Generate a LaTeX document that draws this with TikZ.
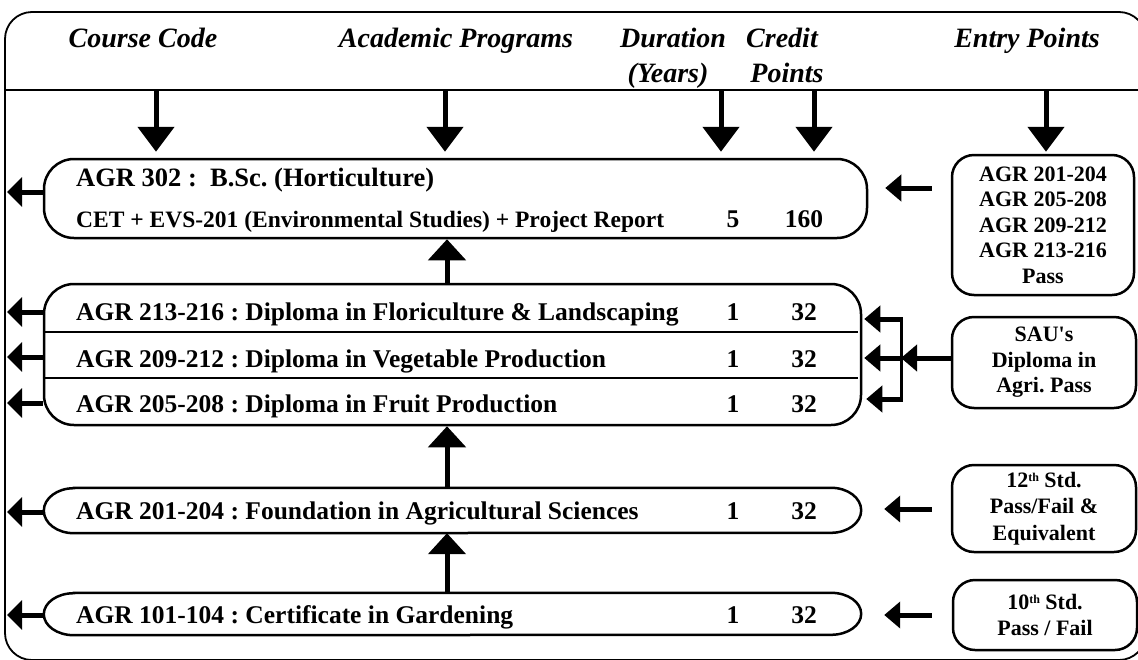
\documentclass[tikz,border=0pt]{standalone}
\usepackage{fontspec}
\setmainfont{Liberation Serif}
\usetikzlibrary{arrows.meta,calc}
\newcommand{\smallsup}[1]{\raisebox{6pt}{\fontsize{12pt}{12pt}\selectfont #1}}
\frenchspacing
\begin{document}
\begin{tikzpicture}[x=1pt,y=-1pt,
  boxline/.style={draw, line width=2.5pt},
  rbox/.style={draw, line width=2.5pt, rounded corners=#1, inner sep=0pt},
  blank/.style={inner sep=0pt},
  hdfont/.style={font=\fontsize{28pt}{32pt}\selectfont\bfseries\itshape},
  rowfont/.style={font=\fontsize{25.5pt}{30pt}\selectfont\bfseries, inner sep=0pt},
  bigfont/.style={font=\fontsize{26.5pt}{30pt}\selectfont\bfseries, inner sep=0pt},
  subfont/.style={font=\fontsize{23.5pt}{28pt}\selectfont\bfseries, inner sep=0pt},
  entryfont/.style={font=\fontsize{22pt}{25.5pt}\selectfont\bfseries, align=center},
  hdarrow/.style={line width=5pt, -{Triangle[length=25pt,width=36pt]}},
  uparrow/.style={line width=5pt, -{Triangle[length=21pt,width=37pt]}},
  outarrow/.style={line width=5pt, -{Triangle[length=15pt,width=29pt]}},
  inarrow/.style={line width=5pt, -{Triangle[length=16pt,width=26pt]}},
]
\useasboundingbox (0,0) rectangle (1138,659);
\clip (0,0) rectangle (1138,659);

% frame and header rule
\draw[line width=1.8pt, rounded corners=27pt] (5,12) rectangle (1146,660);
\draw[line width=1.6pt] (5,90) -- (1146,90);

% header labels
\node[hdfont, anchor=base] (hcode) at (143,47) {Course Code};
\node[hdfont, anchor=base] (hprog) at (456,47) {Academic Programs};
\node[hdfont, anchor=base] (hdur) at (673,47) {Duration};
\node[hdfont, anchor=base] (hyrs) at (668,82) {(Years)};
\node[hdfont, anchor=base] (hcred) at (782,47) {Credit};
\node[hdfont, anchor=base] (hpts) at (787,82) {Points};
\node[hdfont, anchor=base] (hentry) at (1027,47) {Entry Points};

% program boxes
\node[rbox=30pt, minimum width=823pt, minimum height=79pt] (bsc) at (455.5,198.5) {};
\node[rbox=30pt, minimum width=817pt, minimum height=141pt] (dip) at (452.5,354.5) {};
\node[blank, minimum width=817pt, minimum height=45pt] (found) at (452.5,510.5) {};
\node[blank, minimum width=817pt, minimum height=42pt] (cert) at (452.5,614) {};
\draw[boxline] ([xshift=30pt]found.north west) -- ([xshift=-30pt]found.north east)
  arc[start angle=90, end angle=-90, x radius=30pt, y radius=22.5pt]
  -- ([xshift=30pt]found.south west)
  arc[start angle=270, end angle=90, x radius=30pt, y radius=22.5pt] -- cycle;
\draw[boxline] ([xshift=30pt]cert.north west) -- ([xshift=-30pt]cert.north east)
  arc[start angle=90, end angle=-90, x radius=30pt, y radius=21pt]
  -- ([xshift=30pt]cert.south west)
  arc[start angle=270, end angle=90, x radius=30pt, y radius=21pt] -- cycle;

% diploma separators
\coordinate (s1) at (0,332);
\coordinate (s2) at (0,378);
\draw[line width=2pt] (dip.west |- s1) -- ([xshift=-4pt]dip.east |- s1);
\draw[line width=2pt] (dip.west |- s2) -- ([xshift=-4pt]dip.east |- s2);

% program texts
\node[bigfont, anchor=base west] (t1) at (76,186) {AGR 302 :\ \ B.Sc. (Horticulture)};
\node[subfont, anchor=base west] (t2) at (76,227) {CET + EVS-201 (Environmental Studies) + Project Report};
\node[rowfont, anchor=base] (d1) at (733,227) {5};
\node[rowfont, anchor=base] (c1) at (804,227) {160};

\node[rowfont, anchor=base west] (t3) at (76,320) {AGR 213-216 : Diploma in Floriculture \& Landscaping};
\node[rowfont, anchor=base] (d3) at (733,320) {1};
\node[rowfont, anchor=base] (c3) at (804,320) {32};
\node[rowfont, anchor=base west] (t4) at (76,367) {AGR 209-212 : Diploma in Vegetable Production};
\node[rowfont, anchor=base] (d4) at (733,367) {1};
\node[rowfont, anchor=base] (c4) at (804,367) {32};
\node[rowfont, anchor=base west] (t5) at (76,412) {AGR 205-208 : Diploma in Fruit Production};
\node[rowfont, anchor=base] (d5) at (733,412) {1};
\node[rowfont, anchor=base] (c5) at (804,412) {32};

\node[rowfont, anchor=base west] (t6) at (76,519) {AGR 201-204 : Foundation in Agricultural Sciences};
\node[rowfont, anchor=base] (d6) at (733,519) {1};
\node[rowfont, anchor=base] (c6) at (804,519) {32};
\node[rowfont, anchor=base west] (t7) at (76,623) {AGR 101-104 : Certificate in Gardening};
\node[rowfont, anchor=base] (d7) at (733,623) {1};
\node[rowfont, anchor=base] (c7) at (804,623) {32};

% entry boxes
\node[rbox=22pt, entryfont, minimum width=182pt, minimum height=140pt] (e1) at (1043,225)
  {AGR 201-204\\AGR 205-208\\AGR 209-212\\AGR 213-216\\Pass};
\node[rbox=22pt, entryfont, minimum width=184pt, minimum height=91pt] (sau) at (1044,362.5)
  {SAU\textquotesingle s\\Diploma in\\Agri. Pass};
\node[rbox=22pt, entryfont, minimum width=184pt, minimum height=87pt] (e12) at (1044,508.5)
  {12\smallsup{th} Std.\\[1pt]Pass/Fail \&\\[1pt]Equivalent};
\node[rbox=22pt, entryfont, minimum width=184pt, minimum height=70pt] (e10) at (1045,615)
  {10\smallsup{th} Std.\\Pass / Fail};

% header arrows
\coordinate (H1) at (156,90);
\coordinate (H2) at (445,90);
\coordinate (H3) at (721,90);
\coordinate (H4) at (814,90);
\coordinate (H5) at (1046,90);
\draw[hdarrow, shorten >=6pt] (H1) -- (bsc.north -| H1);
\draw[hdarrow, shorten >=6pt] (H2) -- (bsc.north -| H2);
\draw[hdarrow, shorten >=6pt] (H3) -- (bsc.north -| H3);
\draw[hdarrow, shorten >=6pt] (H4) -- (bsc.north -| H4);
\draw[hdarrow, shorten >=2pt] (H5) -- (e1.north -| H5);

% upward progression arrows
\coordinate (U) at (447,0);
\draw[uparrow] (dip.north -| U) -- (bsc.south -| U);
\draw[uparrow] (found.north -| U) -- (dip.south -| U);
\draw[uparrow] (cert.north -| U) -- (found.south -| U);

% exit arrows to the frame
\coordinate (L1) at (7,192);
\coordinate (L2) at (7,312);
\coordinate (L3) at (7,357);
\coordinate (L4) at (7,403);
\coordinate (L5) at (7,512);
\coordinate (L6) at (7,615);
\draw[outarrow] (bsc.west |- L1) -- (L1);
\draw[outarrow] (dip.west |- L2) -- (L2);
\draw[outarrow] (dip.west |- L3) -- (L3);
\draw[outarrow] (dip.west |- L4) -- (L4);
\draw[outarrow] (found.west |- L5) -- (L5);
\draw[outarrow] (cert.west |- L6) -- (L6);

% entry arrows
\coordinate (A1) at (0,188);
\coordinate (A2) at (0,509);
\coordinate (A3) at (0,615);
\draw[inarrow] ([xshift=-19pt]e1.west |- A1) -- ([xshift=17pt]bsc.east |- A1);
\draw[inarrow] ([xshift=-19pt]e12.west |- A2) -- ([xshift=23pt]found.east |- A2);
\draw[inarrow] ([xshift=-20pt]e10.west |- A3) -- ([xshift=23pt]cert.east |- A3);

% SAU bracket
\coordinate (B1) at (901,319);
\coordinate (B2) at (901,358);
\coordinate (B3) at (901,399);
\draw[line width=3pt] ([yshift=1.5pt]B1) -- ([yshift=-1.5pt]B3);
\draw[inarrow] ([xshift=1.5pt]B1) -- ([xshift=2pt]dip.east |- B1);
\draw[inarrow] ([xshift=1.5pt]B2) -- ([xshift=2pt]dip.east |- B2);
\draw[inarrow] ([xshift=1.5pt]B3) -- ([xshift=4pt]dip.east |- B3);
\draw[inarrow] (sau.west |- B2) -- (B2);
\end{tikzpicture}
\end{document}
